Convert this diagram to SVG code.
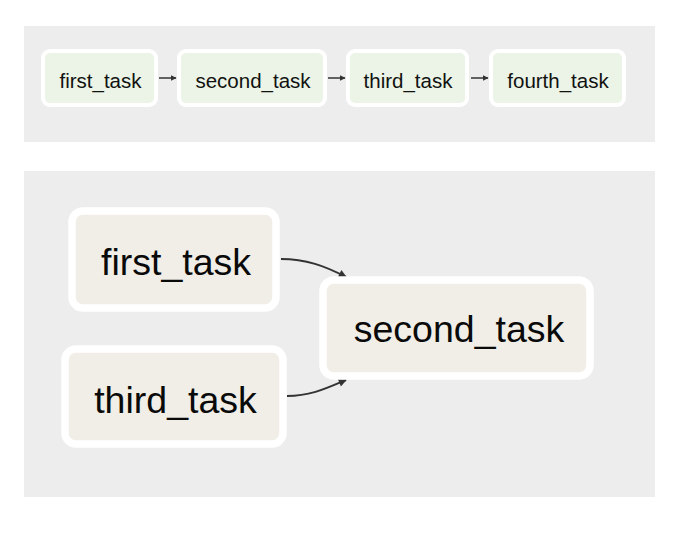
<svg xmlns="http://www.w3.org/2000/svg" width="679" height="545" viewBox="0 0 679 545">
<style>
.panel{fill:#ededed}
.tnode{fill:#ebf4e6;stroke:#ffffff;stroke-width:4}
.bnode{fill:#f0eee7;stroke:#ffffff;stroke-width:7.5}
.tl{font-family:"Liberation Sans",Arial,sans-serif;font-size:20.5px;fill:#111111;text-anchor:middle}
.bl{font-family:"Liberation Sans",Arial,sans-serif;font-size:37.5px;fill:#0a0a0a;text-anchor:middle}
.edge{fill:none;stroke:#333333;stroke-width:2}
.tedge{fill:none;stroke:#333333;stroke-width:1.5}
</style>
<defs>
<marker id="ah" viewBox="0 0 10 10" refX="9" refY="5" markerWidth="6" markerHeight="6" orient="auto" markerUnits="userSpaceOnUse">
<path d="M0,0 L10,5 L0,10 z" fill="#333333"/>
</marker>
<marker id="ahb" viewBox="0 0 10 10" refX="9" refY="5" markerWidth="9" markerHeight="8" orient="auto" markerUnits="userSpaceOnUse">
<path d="M0,0 L10,5 L0,10 z" fill="#333333"/>
</marker>
</defs>
<rect width="679" height="545" fill="#ffffff"/>
<rect class="panel" x="24" y="26" width="631" height="116"/>
<rect class="panel" x="24" y="171" width="631" height="326"/>
<g id="connectors">
<line class="tedge" x1="159" y1="78" x2="176" y2="78" marker-end="url(#ah)"/>
<line class="tedge" x1="328" y1="78" x2="345" y2="78" marker-end="url(#ah)"/>
<line class="tedge" x1="471" y1="78" x2="488" y2="78" marker-end="url(#ah)"/>
<path class="edge" d="M281,259 C306,259 325,266 346,277" marker-end="url(#ahb)"/>
<path class="edge" d="M287,396 C311,396 327,388 346,380" marker-end="url(#ahb)"/>
</g>
<g id="top_first_task">
<rect class="tnode" x="43" y="51" width="113" height="54" rx="7"/>
<text class="tl" x="100.5" y="88">first_task</text>
</g>
<g id="top_second_task">
<rect class="tnode" x="179" y="51" width="146" height="54" rx="7"/>
<text class="tl" x="253" y="88">second_task</text>
</g>
<g id="top_third_task">
<rect class="tnode" x="348" y="51" width="119" height="54" rx="7"/>
<text class="tl" x="408" y="88">third_task</text>
</g>
<g id="top_fourth_task">
<rect class="tnode" x="491" y="51" width="133" height="54" rx="7"/>
<text class="tl" x="558" y="88">fourth_task</text>
</g>
<g id="first_task">
<rect class="bnode" x="72" y="211" width="204" height="97" rx="11"/>
<text class="bl" x="176" y="275">first_task</text>
</g>
<g id="third_task">
<rect class="bnode" x="65" y="349" width="218" height="95" rx="11"/>
<text class="bl" x="175.5" y="413">third_task</text>
</g>
<g id="second_task">
<rect class="bnode" x="323" y="280" width="267" height="96" rx="11"/>
<text class="bl" x="459" y="342">second_task</text>
</g>
</svg>
